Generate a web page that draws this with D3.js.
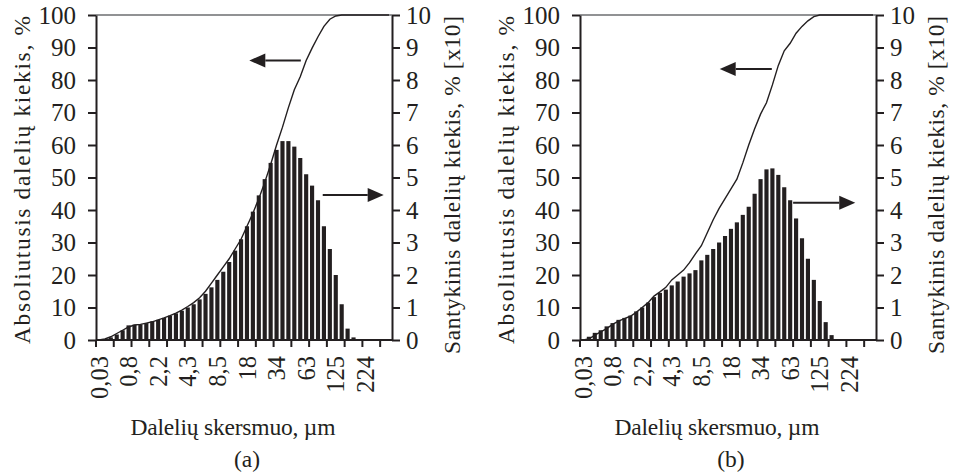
<!DOCTYPE html>
<html>
<head>
<meta charset="utf-8">
<script src="https://cdn.jsdelivr.net/npm/d3@7"></script>
<style>
body { margin: 0; background: #fff; }
svg text { font-family: "Liberation Serif", "Times New Roman", serif; fill: #231f20; }
</style>
</head>
<body>
<svg id="chart" width="958" height="476"></svg>
<script>
// categories (size classes), a label is shown on every 5th one
var categories = d3.range(50);
var labelEvery = 5;
var sizeLabels = ["0,03", "0,8", "2,2", "4,3", "8,5", "18", "34", "63", "125", "224"];
var leftTicks = d3.range(0, 101, 10);
var rightTicks = d3.range(0, 11, 1);

// (a) relative amount, right axis [x10]
var barsA = [0, 0.02, 0.08, 0.17, 0.3, 0.45, 0.47, 0.48, 0.52, 0.57,
    0.62, 0.68, 0.75, 0.82, 0.9, 1.0, 1.1, 1.25, 1.42, 1.62,
    1.85, 2.1, 2.4, 2.75, 3.1, 3.5, 3.95, 4.45, 4.95, 5.45,
    5.85, 6.12, 6.12, 5.95, 5.6, 5.1, 4.75, 4.3, 3.5, 2.8,
    2.0, 1.1, 0.35, 0.08, 0, 0, 0, 0, 0, 0];
// (a) absolute (cumulative) amount, left axis
var cumA = [0, 0.3, 1, 2, 3, 4, 4.6, 4.8, 5.2, 5.6,
    6.2, 6.8, 7.5, 8.3, 9.2, 10.3, 11.5, 13, 15, 17.5,
    20, 22.5, 25, 28, 31, 35, 39, 43.5, 48.5, 54,
    60, 65.5, 71.5, 77, 81, 86, 89.8, 93.3, 96.5, 98.7,
    99.7, 100, 100, 100, 100, 100, 100, 100, 100, 100];

// (b)
var barsB = [0, 0.1, 0.22, 0.3, 0.42, 0.52, 0.62, 0.68, 0.75, 0.88,
    1.0, 1.15, 1.32, 1.45, 1.55, 1.68, 1.8, 1.95, 2.05, 2.15,
    2.45, 2.62, 2.8, 3.0, 3.2, 3.42, 3.62, 3.85, 4.1, 4.5,
    4.95, 5.25, 5.28, 5.08, 4.7, 4.3, 3.74, 3.13, 2.5, 1.85,
    1.2, 0.55, 0.15, 0, 0, 0, 0, 0, 0, 0];
var cumB = [0, 0.3, 1.5, 2.5, 3.5, 4.8, 5.8, 6.6, 7.3, 8.5,
    10, 11.5, 13.5, 14.8, 16.2, 18.5, 20, 21.5, 23.8, 26.5,
    29, 33, 37, 40.5, 43.5, 46.5, 49.5, 54.5, 60, 65,
    69.5, 73, 78.5, 84.5, 89, 91.3, 94.4, 96.5, 98.2, 99.5,
    100, 100, 100, 100, 100, 100, 100, 100, 100, 100];

// arrows: value on the given axis, from/to in category units
var arrowsA = [
    { axis: "left", value: 86, from: 34.6, to: 25.9 },
    { axis: "right", value: 4.46, from: 38.3, to: 48.6 }
];
var arrowsB = [
    { axis: "left", value: 83.4, from: 32.4, to: 23.6 },
    { axis: "right", value: 4.22, from: 36.0, to: 46.5 }
];

var svg = d3.select("#chart");

Panel = function (svg, opt) {
    var top = 15, bottom = 340;
    var left = opt.left, right = opt.left + 296;

    var x = d3.scaleBand()
        .domain(categories)
        .range([left, right])
        .paddingInner(0.3)
        .paddingOuter(0.15);
    var step = x.step();
    var yL = d3.scaleLinear().domain([0, 100]).range([bottom, top]);
    var yR = d3.scaleLinear().domain([0, 10]).range([bottom, top]);

    var g = svg.append("g");

    // top border of plot area
    g.append("line")
        .attr("x1", left).attr("x2", right)
        .attr("y1", top).attr("y2", top)
        .attr("stroke", "#6d6e71").attr("stroke-width", 1.5);

    // bars
    g.selectAll("rect.bar")
        .data(opt.bars)
        .enter()
        .append("rect")
        .attr("class", "bar")
        .attr("x", function (d, i) { return x(i); })
        .attr("width", x.bandwidth())
        .attr("y", function (d) { return yR(d); })
        .attr("height", function (d) { return bottom - yR(d); })
        .attr("fill", "#231f20");

    // cumulative line
    var line = d3.line()
        .x(function (d, i) { return x(i) + x.bandwidth() / 2; })
        .y(function (d) { return yL(d); });
    g.append("path")
        .datum(opt.cum)
        .attr("d", line)
        .attr("fill", "none")
        .attr("stroke", "#231f20")
        .attr("stroke-width", 1.4);

    // left axis
    var axL = g.append("g")
        .attr("transform", "translate(" + left + ",0)")
        .call(d3.axisLeft(yL).tickValues(leftTicks).tickSize(8).tickSizeOuter(0).tickPadding(12));
    // right axis
    var axR = g.append("g")
        .attr("transform", "translate(" + right + ",0)")
        .call(d3.axisRight(yR).tickValues(rightTicks).tickSize(8).tickSizeOuter(0).tickPadding(6));
    [axL, axR].forEach(function (ax) {
        ax.attr("font-family", null);
        ax.select(".domain").attr("stroke", "#231f20").attr("stroke-width", 2);
        ax.selectAll(".tick line").attr("stroke", "#231f20").attr("stroke-width", 2);
        ax.selectAll(".tick text").attr("font-size", 25);
    });

    // category axis: ticks every 3 categories, labels every 5
    var tickPos = d3.range(0, categories.length + 1, 3).map(function (k) { return left + k * step; });
    g.selectAll("line.xtick")
        .data(tickPos)
        .enter()
        .append("line")
        .attr("class", "xtick")
        .attr("x1", function (d) { return d; })
        .attr("x2", function (d) { return d; })
        .attr("y1", bottom)
        .attr("y2", bottom + 7)
        .attr("stroke", "#231f20")
        .attr("stroke-width", 2);
    g.append("line")
        .attr("x1", left).attr("x2", right)
        .attr("y1", bottom).attr("y2", bottom)
        .attr("stroke", "#231f20").attr("stroke-width", 2);

    g.selectAll("text.xlabel")
        .data(sizeLabels)
        .enter()
        .append("text")
        .attr("class", "xlabel")
        .attr("transform", function (d, i) {
            var cx = x(i * labelEvery) + x.bandwidth() / 2;
            return "translate(" + cx + ",356) rotate(-90)";
        })
        .attr("dy", "0.35em")
        .attr("text-anchor", "end")
        .attr("font-size", 24.5)
        .text(function (d) { return d; });

    // axis titles
    g.append("text")
        .attr("transform", "translate(" + (left - 74) + ",180) rotate(-90)")
        .attr("dy", "0.35em")
        .attr("text-anchor", "middle")
        .attr("font-size", 23.5)
        .attr("textLength", 328)
        .attr("lengthAdjust", "spacing")
        .text("Absoliutusis dalelių kiekis, %");
    g.append("text")
        .attr("transform", "translate(" + (right + 60) + ",185) rotate(-90)")
        .attr("dy", "0.35em")
        .attr("text-anchor", "middle")
        .attr("font-size", 23.5)
        .attr("textLength", 338)
        .attr("lengthAdjust", "spacing")
        .text("Santykinis dalelių kiekis, % [x10]");
    g.append("text")
        .attr("x", (left + right) / 2 - 11)
        .attr("y", 435)
        .attr("text-anchor", "middle")
        .attr("font-size", 23.5)
        .attr("textLength", 205)
        .attr("lengthAdjust", "spacing")
        .text("Dalelių skersmuo, µm");
    g.append("text")
        .attr("x", (left + right) / 2 + 3)
        .attr("y", 467)
        .attr("text-anchor", "middle")
        .attr("font-size", 23.5)
        .text(opt.tag);

    // arrows
    opt.arrows.forEach(function (a) {
        var yy = (a.axis === "left" ? yL : yR)(a.value);
        var x0 = left + a.from * step, x1 = left + a.to * step;
        var dir = x1 > x0 ? 1 : -1;
        var head = 16, half = 7;
        g.append("line")
            .attr("x1", x0).attr("x2", x1 - dir * head)
            .attr("y1", yy).attr("y2", yy)
            .attr("stroke", "#231f20").attr("stroke-width", 2);
        g.append("path")
            .attr("d", "M" + x1 + "," + yy +
                "L" + (x1 - dir * head) + "," + (yy - half) +
                "L" + (x1 - dir * head) + "," + (yy + half) + "Z")
            .attr("fill", "#231f20");
    });
}

new Panel(svg, { left: 96, bars: barsA, cum: cumA, arrows: arrowsA, tag: "(a)" });
new Panel(svg, { left: 580, bars: barsB, cum: cumB, arrows: arrowsB, tag: "(b)" });
</script>
</body>
</html>
